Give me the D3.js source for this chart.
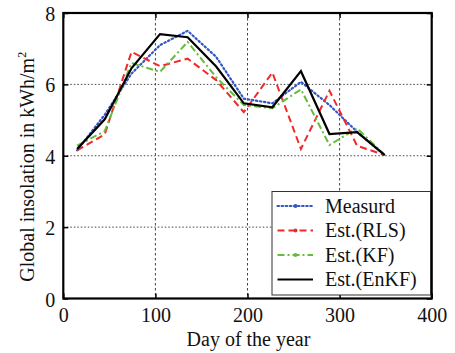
<!DOCTYPE html>
<html><head><meta charset="utf-8">
<script src="https://cdn.jsdelivr.net/npm/d3@7"></script>
<style>body{margin:0;background:#fff}svg{display:block}text{font-family:"Liberation Serif","Times New Roman",serif;fill:#111}</style>
</head><body><svg id="c" width="455" height="353" font-family="Liberation Serif, serif"></svg>
<script>
const days = [15, 45, 74, 105, 135, 166, 196, 227, 258, 289, 319, 349];
const measured = [4.15, 5.15, 6.3, 7.1, 7.5, 6.77, 5.6, 5.47, 6.07, 5.42, 4.67, 4.02];
const rls = [4.15, 4.6, 6.91, 6.51, 6.72, 6.12, 5.22, 6.33, 4.19, 5.82, 4.28, 4.02];
const kf = [4.28, 4.69, 6.6, 6.35, 7.19, 6.2, 5.42, 5.33, 5.86, 4.3, 4.77, 4.02];
const enkf = [4.19, 5.02, 6.45, 7.41, 7.32, 6.5, 5.47, 5.36, 6.37, 4.61, 4.66, 4.02];
const seriesNames = ["Measurd", "Est.(RLS)", "Est.(KF)", "Est.(EnKF)"];
const xTicks = [0, 100, 200, 300, 400];
const yTicks = [0, 2, 4, 6, 8];

const svg = d3.select("#c");
const L = 63.3, R = 431.7, T = 13, B = 298.5;
const x = d3.scaleLinear().domain([0, 400]).range([L, R]);
const y = d3.scaleLinear().domain([0, 8]).range([B, T]);

// grid
const g = svg.append("g");
g.selectAll(".gx").data(xTicks.slice(1, -1)).join("line")
  .attr("x1", d => x(d)).attr("x2", d => x(d)).attr("y1", T).attr("y2", B)
  .attr("stroke", "#444").attr("stroke-width", 1).attr("stroke-dasharray", "2.5,2.5");
g.selectAll(".gy").data(yTicks.slice(1, -1)).join("line")
  .attr("y1", d => y(d)).attr("y2", d => y(d)).attr("x1", L).attr("x2", R)
  .attr("stroke", "#444").attr("stroke-width", 1).attr("stroke-dasharray", "1.5,2");

// axes
const fmt = d3.format("d");
const axB = svg.append("g").attr("transform", `translate(0,${B})`)
  .call(d3.axisBottom(x).tickValues(xTicks).tickFormat(fmt).tickSizeInner(-5).tickSizeOuter(0).tickPadding(9));
const axT = svg.append("g").attr("transform", `translate(0,${T})`)
  .call(d3.axisTop(x).tickValues(xTicks).tickFormat("").tickSizeInner(-5).tickSizeOuter(0));
const axL = svg.append("g").attr("transform", `translate(${L},0)`)
  .call(d3.axisLeft(y).tickValues(yTicks).tickFormat(fmt).tickSizeInner(-5).tickSizeOuter(0).tickPadding(8));
const axR = svg.append("g").attr("transform", `translate(${R},0)`)
  .call(d3.axisRight(y).tickValues(yTicks).tickFormat("").tickSizeInner(-5).tickSizeOuter(0));
[axB, axT, axL, axR].forEach(a => {
  a.attr("font-family", "Liberation Serif, serif").attr("font-size", 20);
  a.select(".domain").remove();
  a.selectAll(".tick line").attr("stroke", "#000").attr("stroke-width", 1.5);
  a.selectAll("text").attr("font-size", 20).attr("fill", "#111")
   .attr("font-family", "Liberation Serif, serif");
});
axL.selectAll("text").attr("dy", "0.38em").attr("dx", "0");
axB.selectAll("text").attr("dy", "0.71em");

// series
const series = [
  {name: seriesNames[0], vals: measured, color: "#3358c4", dash: "1.5,2.6", cap: "round", w: 2.2},
  {name: seriesNames[1], vals: rls, color: "#ee2a2a", dash: "7,4", cap: "butt", w: 2},
  {name: seriesNames[2], vals: kf, color: "#66bb3a", dash: "7,3,2,3", cap: "butt", w: 2},
  {name: seriesNames[3], vals: enkf, color: "#000", dash: null, cap: "butt", w: 2.2}
];
const line = d3.line().x(d => x(d[0])).y(d => y(d[1]));
svg.append("clipPath").attr("id", "pc").append("rect")
  .attr("x", L).attr("y", T).attr("width", R - L).attr("height", B - T);
const lg = svg.append("g").attr("clip-path", "url(#pc)");
series.forEach(s => {
  lg.append("path").datum(days.map((d, i) => [d, s.vals[i]]))
    .attr("d", line).attr("fill", "none").attr("stroke", s.color)
    .attr("stroke-width", s.w).attr("stroke-dasharray", s.dash)
    .attr("stroke-linecap", s.cap).attr("stroke-linejoin", "miter");
});

// frame
svg.append("rect").attr("x", L).attr("y", T).attr("width", R - L).attr("height", B - T)
  .attr("fill", "none").attr("stroke", "#000").attr("stroke-width", 2.2);

// legend
const lgX = 272, lgY = 191.5, lgW = 158.5, lgH = 103.5;
svg.append("rect").attr("x", lgX).attr("y", lgY).attr("width", lgW).attr("height", lgH)
  .attr("fill", "#fff").attr("stroke", "#333").attr("stroke-width", 1);
series.forEach((s, i) => {
  const yy = 206 + i * 24.5;
  svg.append("line").attr("x1", 277.5).attr("x2", 313).attr("y1", yy).attr("y2", yy)
    .attr("stroke", s.color).attr("stroke-width", s.w).attr("stroke-dasharray", s.dash)
    .attr("stroke-linecap", s.cap);
  if (i < 3) svg.append("circle").attr("cx", 295.5).attr("cy", yy).attr("r", 2)
    .attr("fill", s.color);
  svg.append("text").attr("x", 325).attr("y", yy).attr("dy", "0.33em")
    .attr("font-size", 20).text(s.name);
});

// titles
svg.append("text").attr("x", (L + R) / 2 + 1).attr("y", 346).attr("text-anchor", "middle")
  .attr("font-size", 20).text("Day of the year");
const yt = svg.append("text").attr("transform", `translate(34,${(T + B) / 2 + 11}) rotate(-90)`)
  .attr("text-anchor", "middle").attr("font-size", 20);
yt.append("tspan").text("Global insolation in kWh/m");
yt.append("tspan").attr("font-size", 12).attr("dy", -8).text("2");
</script></body></html>
